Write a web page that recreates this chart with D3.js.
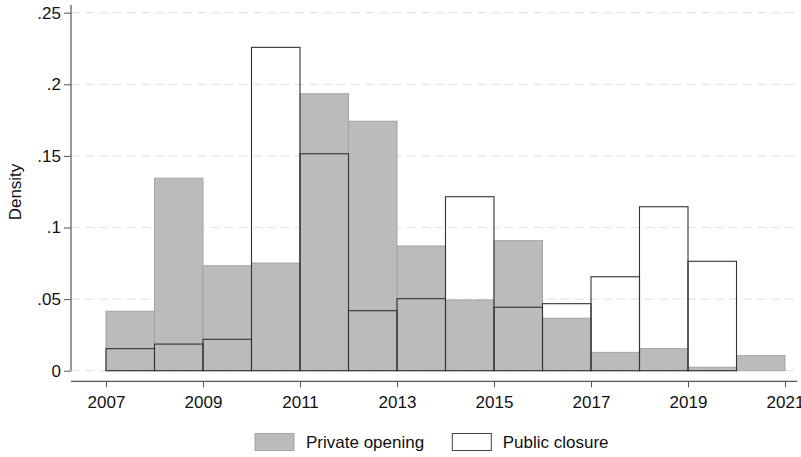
<!DOCTYPE html>
<html><head><meta charset="utf-8">
<script src="https://cdn.jsdelivr.net/npm/d3@7"></script>
<style>body{margin:0;background:#fff}svg{display:block}text{font-family:"Liberation Sans",Arial,sans-serif;fill:#111}</style>
</head><body><svg id="c" width="801" height="457"></svg>
<script>
const binStarts = [2007,2008,2009,2010,2011,2012,2013,2014,2015,2016,2017,2018,2019,2020];
const privateOpening = [0.0415,0.1344,0.0733,0.0752,0.1934,0.1742,0.0871,0.0494,0.0908,0.0366,0.0128,0.0154,0.0024,0.0105];
const publicClosure  = [0.0154,0.0186,0.0219,0.2258,0.1515,0.0419,0.0503,0.1215,0.0443,0.0468,0.0656,0.1145,0.0764,0];
const xTicks = [2007,2009,2011,2013,2015,2017,2019,2021];
const yTicks = [0,0.05,0.1,0.15,0.2,0.25];
const yTickLabels = ["0",".05",".1",".15",".2",".25"];
const seriesNames = ["Private opening","Public closure"];

const svg = d3.select("#c");
const pLeft = 71, pRight = 797, pTop = 5, pBottom = 370.7;
const x = d3.scaleLinear().domain([2007,2021]).range([106,785]);
const y = d3.scaleLinear().domain([0,0.25]).range([pBottom,12.7]);

// grid
svg.append("g").selectAll("line").data(yTicks).join("line")
  .attr("x1",pLeft).attr("x2",pRight).attr("y1",d=>y(d)).attr("y2",d=>y(d))
  .attr("stroke","#e6e6e6").attr("stroke-width",1.2).attr("stroke-dasharray","9,5");

// private bars
svg.append("g").selectAll("rect").data(binStarts).join("rect")
  .attr("x",(d)=>x(d)).attr("width",(d)=>x(d+1)-x(d))
  .attr("y",(d,i)=>y(privateOpening[i])).attr("height",(d,i)=>pBottom-y(privateOpening[i]))
  .attr("fill","#bbbbbb").attr("stroke","#a3a3a3").attr("stroke-width",1);

// public bars
svg.append("g").selectAll("rect").data(binStarts.filter((d,i)=>publicClosure[i]>0)).join("rect")
  .attr("x",(d)=>x(d)).attr("width",(d)=>x(d+1)-x(d))
  .attr("y",(d)=>y(publicClosure[binStarts.indexOf(d)])).attr("height",(d)=>pBottom-y(publicClosure[binStarts.indexOf(d)]))
  .attr("fill","none").attr("stroke","#333").attr("stroke-width",1.1);

// y axis
const ya = svg.append("g").attr("transform",`translate(${pLeft},0)`)
  .call(d3.axisLeft(y).tickValues(yTicks).tickFormat((d,i)=>yTickLabels[i]).tickSize(7).tickPadding(3));
ya.select(".domain").attr("d",`M0,${pTop}V${pBottom}`).attr("stroke","#555").attr("stroke-width",1.2);
ya.selectAll(".tick line").attr("stroke","#555");
ya.selectAll(".tick text").attr("font-size",17).attr("font-family","Liberation Sans, Arial").attr("fill","#111");

// x axis
const xa = svg.append("g").attr("transform",`translate(0,381.3)`)
  .call(d3.axisBottom(x).tickValues(xTicks).tickFormat(d3.format("d")).tickSize(6).tickPadding(9));
xa.select(".domain").attr("d",`M${pLeft},0H${pRight}`).attr("stroke","#555").attr("stroke-width",1.2);
xa.selectAll(".tick line").attr("stroke","#555");
xa.selectAll(".tick text").attr("font-size",17).attr("font-family","Liberation Sans, Arial").attr("fill","#111");

// y label
svg.append("text").attr("transform","translate(21,192) rotate(-90)").attr("text-anchor","middle")
  .attr("font-size",17).text("Density");

// legend
const lg = svg.append("g");
const lx = [255,452.3], tx = [306,502.7];
seriesNames.forEach((n,i)=>{
  lg.append("rect").attr("x",lx[i]).attr("y",433.5).attr("width",39).attr("height",17)
    .attr("fill",i===0?"#bbbbbb":"#fff").attr("stroke",i===0?"#a3a3a3":"#444").attr("stroke-width",1);
  lg.append("text").attr("x",tx[i]).attr("y",448).attr("font-size",17).text(n);
});
</script></body></html>
